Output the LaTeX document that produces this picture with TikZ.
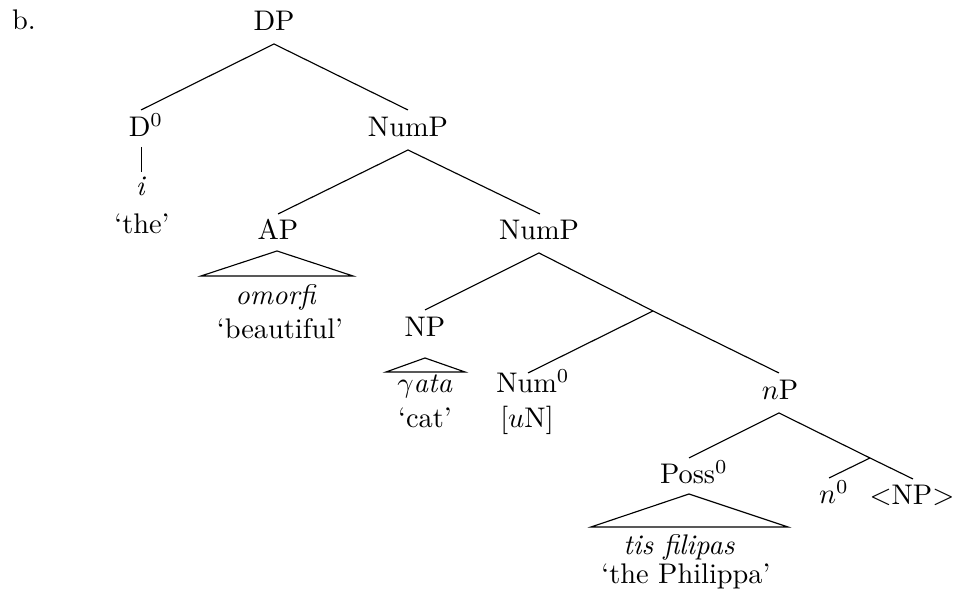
\documentclass[tikz,border=0pt]{standalone}
\begin{document}
\begin{tikzpicture}[x=0.3525pt,y=-0.3525pt,
  lab/.style={inner sep=0pt,anchor=base},
  br/.style={line width=0.4pt}]
\useasboundingbox (0,0) rectangle (958,599);
% labels (anchored at baseline)
\node[lab] (b) at (24,30) {b.};
\node[lab] (DP) at (274,31) {DP};
\node[lab] (D0) at (146,137) {D$^0$};
\node[lab] (NumP) at (408,137) {NumP};
\node[lab] (i) at (141,196) {\textit{i}};
\node[lab] (the) at (142,234) {`the'};
\node[lab] (AP) at (278,240) {AP};
\node[lab] (NumPb) at (539,240) {NumP};
\node[lab] (omorfi) at (276,305) {\textit{omorfi}};
\node[lab] (beautiful) at (280,339) {`beautiful'};
\node[lab] (NP) at (425,337) {NP};
\node[lab] (yata) at (425,393) {\textit{$\gamma$ata}};
\node[lab] (cat) at (425,428) {`cat'};
\node[lab] (Num0) at (533,393) {Num$^0$};
\node[lab] (uN) at (527,428) {[$u$N]};
\node[lab] (nP) at (780,400) {$n$P};
\node[lab] (Poss0) at (694,484) {Poss$^0$};
\node[lab] (n0) at (834,504) {$n^0$};
\node[lab] (tNP) at (912,505) {$<$NP$>$};
\node[lab] (tis) at (679,555) {\textit{tis filipas}};
\node[lab] (phil) at (686,584) {`the Philippa'};
% branch points
\coordinate (DPs) at (274,44);
\coordinate (D0n) at (141,110);
\coordinate (D0s) at (141.5,147);
\coordinate (in) at (141.5,172);
\coordinate (NumPn) at (408,110);
\coordinate (NumPs) at (408,150);
\coordinate (APn) at (278,214);
\coordinate (NumPbn) at (540,214);
\coordinate (NumPbs) at (539,253);
\coordinate (NPn) at (425,310);
\coordinate (X) at (653,311);
\coordinate (Num0n) at (528,373);
\coordinate (nPn) at (779,373);
\coordinate (nPs) at (779,413);
\coordinate (Poss0n) at (689,458);
\coordinate (Y) at (870,458);
\coordinate (n0n) at (829,478);
\coordinate (tNPn) at (913,479);
% connectors
\draw[br] (D0n) -- (DPs) -- (NumPn);
\draw[br] (D0s) -- (in);
\draw[br] (APn) -- (NumPs) -- (NumPbn);
\draw[br] (NPn) -- (NumPbs) -- (X) -- (nPn);
\draw[br] (X) -- (Num0n);
\draw[br] (Poss0n) -- (nPs) -- (Y) -- (tNPn);
\draw[br] (Y) -- (n0n);
% triangles
\draw[br] (277,251) -- (353,276) -- (201,276) -- cycle;
\draw[br] (425,358) -- (465,372) -- (386,372) -- cycle;
\draw[br] (689,494) -- (788,527) -- (591,527) -- cycle;
\end{tikzpicture}
\end{document}
